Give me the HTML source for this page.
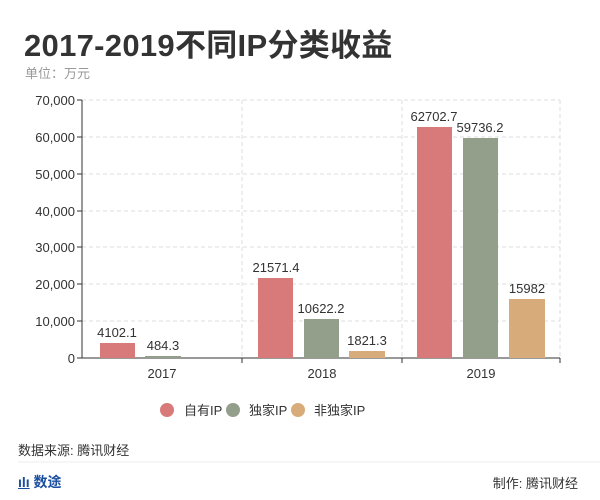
<!DOCTYPE html>
<html><head><meta charset="utf-8"><style>
body{margin:0;width:600px;height:500px;background:#fff;font-family:"Liberation Sans","Noto Sans CJK SC",sans-serif;overflow:hidden;position:relative}
.t{position:absolute;white-space:nowrap}
</style></head><body>
<div class="t" style="left:24px;top:20px;font-size:31px;font-weight:bold;color:#333;letter-spacing:0.3px">2017-2019不同IP分类收益</div>
<div class="t" style="left:25px;top:63px;font-size:13px;color:#999">单位：万元</div>
<svg width="600" height="500" style="position:absolute;left:0;top:0" font-family="Liberation Sans, Noto Sans CJK SC, sans-serif">
<g stroke="#ddd" stroke-dasharray="4,3">
<line x1="82" x2="560" y1="100" y2="100"/><line x1="82" x2="560" y1="137" y2="137"/><line x1="82" x2="560" y1="174" y2="174"/><line x1="82" x2="560" y1="211" y2="211"/><line x1="82" x2="560" y1="247" y2="247"/><line x1="82" x2="560" y1="284" y2="284"/><line x1="82" x2="560" y1="321" y2="321"/>
<line x1="242" x2="242" y1="100" y2="358"/><line x1="402" x2="402" y1="100" y2="358"/><line x1="560" x2="560" y1="100" y2="358"/>
</g>
<g stroke="#333"><line x1="82" x2="82" y1="100" y2="358"/><line x1="82" x2="560" y1="358" y2="358"/>
<line x1="77" x2="82" y1="100" y2="100"/><line x1="77" x2="82" y1="137" y2="137"/><line x1="77" x2="82" y1="174" y2="174"/><line x1="77" x2="82" y1="211" y2="211"/><line x1="77" x2="82" y1="247" y2="247"/><line x1="77" x2="82" y1="284" y2="284"/><line x1="77" x2="82" y1="321" y2="321"/><line x1="77" x2="82" y1="358" y2="358"/>
<line x1="242" x2="242" y1="358" y2="363"/><line x1="402" x2="402" y1="358" y2="363"/><line x1="560" x2="560" y1="358" y2="363"/></g>
<g font-size="13" fill="#333" text-anchor="end">
<text x="75" y="105">70,000</text><text x="75" y="142">60,000</text><text x="75" y="179">50,000</text><text x="75" y="216">40,000</text><text x="75" y="252">30,000</text><text x="75" y="289">20,000</text><text x="75" y="326">10,000</text><text x="75" y="363">0</text></g>
<g font-size="13" fill="#333" text-anchor="middle"><text x="162" y="378">2017</text><text x="322" y="378">2018</text><text x="481" y="378">2019</text></g>
<g>
<rect x="100" y="343" width="35" height="15" fill="#d87a7a"/>
<rect x="145" y="356" width="36" height="2" fill="#949f8b"/>
<rect x="258" y="278" width="35" height="80" fill="#d87a7a"/>
<rect x="304" y="319" width="35" height="39" fill="#949f8b"/>
<rect x="349" y="351" width="36" height="7" fill="#d8ab7a"/>
<rect x="417" y="127" width="35" height="231" fill="#d87a7a"/>
<rect x="463" y="138" width="35" height="220" fill="#949f8b"/>
<rect x="509" y="299" width="36" height="59" fill="#d8ab7a"/>
</g>
<g font-size="13" fill="#333" text-anchor="middle">
<text x="117" y="337">4102.1</text><text x="163" y="350">484.3</text>
<text x="276" y="272">21571.4</text><text x="321" y="313">10622.2</text><text x="367" y="345">1821.3</text>
<text x="434" y="121">62702.7</text><text x="480" y="132">59736.2</text><text x="527" y="293">15982</text></g>
<circle cx="167" cy="410" r="7" fill="#d87a7a"/><circle cx="233" cy="410" r="7" fill="#949f8b"/><circle cx="298" cy="410" r="7" fill="#d8ab7a"/>
<g font-size="13" fill="#333"><text x="184" y="415">自有IP</text><text x="249" y="415">独家IP</text><text x="314" y="415">非独家IP</text></g>
<line x1="18" x2="600" y1="462" y2="462" stroke="#eee"/>
</svg>
<div class="t" style="left:18px;top:440px;font-size:13px;color:#333">数据来源: 腾讯财经</div>
<div class="t" style="left:18px;top:472px;font-size:14px;font-weight:bold;color:#1a4fa0"><span style="text-decoration:underline">ılı</span> 数途</div>
<div class="t" style="right:22px;top:473px;font-size:13px;color:#333">制作: 腾讯财经</div>
</body></html>
